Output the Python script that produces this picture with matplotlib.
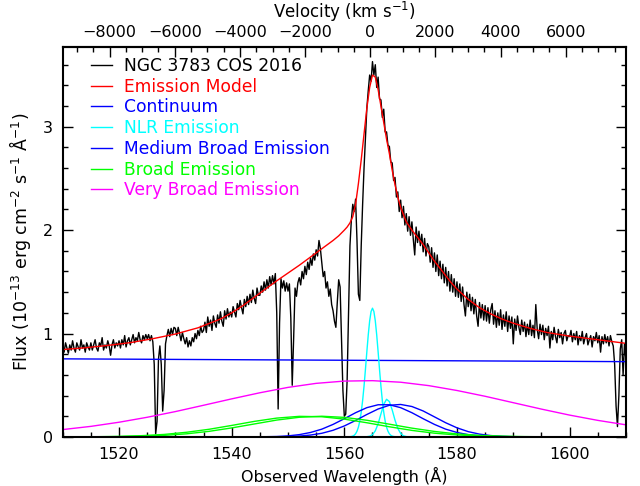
import matplotlib
matplotlib.use('Agg')
import matplotlib.pyplot as plt
import numpy as np
from matplotlib.ticker import MultipleLocator, FixedLocator

plt.rcParams['font.family'] = 'DejaVu Sans'
plt.rcParams['font.size'] = 11.5
plt.rcParams['mathtext.fontset'] = 'dejavusans'

# Спектр NGC 3783 (шаг 0.25 Å, от 1510 до 1610 Å), по 5 Å в строке
wave = np.arange(1510.0, 1610.01, 0.25)
flux = [
    0.87, 0.82, 0.91, 0.86, 0.81, 0.89, 0.84, 0.93, 0.86, 0.82, 0.91, 0.87, 0.84, 0.94, 0.86, 0.89, 0.82, 0.91, 0.87, 0.84,
    0.91, 0.84, 0.89, 0.94, 0.86, 0.83, 0.91, 0.88, 0.96, 0.84, 0.89, 0.86, 0.93, 0.88, 0.79, 0.89, 0.94, 0.86, 0.91, 0.88,
    0.93, 0.86, 0.94, 0.89, 0.98, 0.87, 0.93, 0.96, 0.89, 0.94, 0.99, 0.91, 0.96, 0.93, 1.01, 0.94, 0.91, 0.98, 0.94, 0.99,
    0.95, 0.99, 0.93, 0.98, 0.92, 0.70, 0.03, 0.15, 0.75, 0.88, 0.70, 0.25, 0.45, 0.90, 0.98, 1.04, 0.97, 1.05, 0.99, 1.06,
    1.05, 0.98, 1.06, 1.00, 0.93, 1.01, 0.95, 0.90, 0.96, 0.87, 0.93, 0.88, 0.96, 0.92, 1.00, 0.95, 1.03, 0.98, 1.07, 1.01,
    1.03, 1.11, 1.01, 1.16, 1.07, 1.13, 1.03, 1.17, 1.10, 1.06, 1.18, 1.10, 1.21, 1.12, 1.07, 1.22, 1.14, 1.24, 1.16, 1.21,
    1.16, 1.26, 1.21, 1.16, 1.29, 1.23, 1.32, 1.25, 1.19, 1.33, 1.26, 1.36, 1.28, 1.38, 1.30, 1.42, 1.34, 1.29, 1.44, 1.37,
    1.37, 1.46, 1.40, 1.50, 1.42, 1.52, 1.44, 1.55, 1.47, 1.56, 1.48, 1.58, 1.20, 0.27, 1.10, 1.53, 1.44, 1.51, 1.41, 1.49,
    1.41, 1.48, 1.15, 0.50, 0.95, 1.44, 1.36, 1.49, 1.54, 1.47, 1.60, 1.53, 1.65, 1.57, 1.69, 1.62, 1.73, 1.66, 1.77, 1.71,
    1.81, 1.75, 1.90, 1.82, 1.68, 1.55, 1.60, 1.44, 1.50, 1.36, 1.43, 1.28, 1.22, 1.12, 1.06, 1.30, 1.52, 1.45, 0.95, 0.45,
    0.20, 0.22, 0.55, 1.20, 1.85, 2.10, 2.25, 2.18, 2.30, 1.90, 1.38, 1.32, 1.85, 2.25, 2.60, 2.90, 3.18, 3.35, 3.50, 3.44,
    3.63, 3.50, 3.60, 3.38, 3.48, 3.27, 3.26, 3.09, 3.17, 2.95, 2.95, 2.82, 2.81, 2.66, 2.65, 2.48, 2.51, 2.32, 2.37, 2.18,
    2.29, 2.12, 2.23, 2.05, 2.16, 1.99, 2.13, 1.95, 2.08, 1.91, 1.76, 2.03, 1.88, 1.99, 1.85, 1.96, 1.79, 1.92, 1.75, 1.87,
    1.84, 1.69, 1.83, 1.64, 1.78, 1.60, 1.76, 1.56, 1.70, 1.53, 1.67, 1.49, 1.64, 1.46, 1.60, 1.41, 1.57, 1.40, 1.53, 1.36,
    1.50, 1.35, 1.48, 1.31, 1.45, 1.28, 1.17, 1.40, 1.26, 1.38, 1.22, 1.35, 1.19, 1.33, 1.17, 1.07, 1.30, 1.15, 1.28, 1.13,
    1.27, 1.12, 1.25, 1.10, 1.23, 1.29, 1.09, 1.22, 1.06, 1.20, 1.08, 1.23, 1.04, 1.18, 1.07, 1.21, 1.02, 1.17, 1.05, 1.16,
    0.90, 1.14, 1.03, 1.17, 1.06, 0.99, 1.13, 1.02, 1.11, 0.97, 1.09, 0.99, 1.13, 0.98, 1.08, 0.96, 1.28, 1.04, 0.95, 1.09,
    0.99, 1.08, 0.94, 1.05, 0.98, 1.07, 0.86, 1.02, 0.94, 1.06, 0.97, 0.91, 1.04, 0.96, 1.01, 0.90, 1.00, 1.03, 0.93, 0.98,
    0.97, 1.03, 0.92, 1.00, 0.94, 1.02, 0.89, 0.98, 0.93, 1.02, 0.90, 0.96, 1.00, 0.89, 0.94, 0.98, 0.87, 0.97, 0.93, 1.01,
    0.91, 0.98, 0.82, 0.97, 0.90, 0.99, 0.91, 0.97, 0.88, 0.98, 0.92, 0.88, 0.70, 0.30, 0.10, 0.40, 0.85, 0.94, 0.60, 0.90,
    0.75,
]

# Модель излучения (красная линия)
model_wave = [1510, 1514, 1518, 1522, 1526, 1530, 1534, 1538,
              1540, 1542, 1544, 1546, 1548, 1550, 1552, 1554, 1556, 1558,
              1559, 1560, 1560.5, 1561, 1561.5, 1562, 1562.5, 1563, 1563.5,
              1564, 1564.5, 1565, 1565.5, 1566, 1566.5, 1567, 1567.5, 1568,
              1568.5, 1569, 1569.5, 1570,
              1571, 1572, 1573, 1574, 1575, 1576, 1577, 1578, 1579, 1580,
              1582, 1584, 1586, 1588, 1590, 1593, 1596, 1600, 1605, 1610]
model_flux = [0.845, 0.862, 0.885, 0.912, 0.950, 0.995, 1.055, 1.140,
              1.200, 1.270, 1.350, 1.430, 1.510, 1.585, 1.660, 1.740, 1.820, 1.900,
              1.945, 2.000, 2.030, 2.070, 2.130, 2.250, 2.450, 2.680, 2.930,
              3.180, 3.380, 3.500, 3.480, 3.360, 3.200, 3.040, 2.880, 2.740,
              2.580, 2.440, 2.320, 2.220,
              2.080, 2.000, 1.930, 1.860, 1.780, 1.700, 1.630, 1.560, 1.490, 1.430,
              1.330, 1.250, 1.190, 1.140, 1.100, 1.050, 1.010, 0.975, 0.940, 0.905]

# Континуум
cont_wave = [1510, 1610]
cont_flux = [0.755, 0.728]

# Узкие линии (NLR), дублет
nlr1_wave = np.arange(1561.0, 1569.01, 0.25)
nlr1_flux = [0.002, 0.004, 0.008, 0.016, 0.030, 0.055, 0.094, 0.154,
             0.238, 0.351, 0.491, 0.653, 0.824, 0.987, 1.123, 1.213,
             1.245,
             1.213, 1.123, 0.987, 0.824, 0.653, 0.491, 0.351, 0.238,
             0.154, 0.094, 0.055, 0.030, 0.016, 0.008, 0.004, 0.002]
nlr2_wave = np.arange(1563.5, 1571.51, 0.5)
nlr2_flux = [0.000, 0.002, 0.007, 0.022, 0.059, 0.127, 0.222, 0.315, 0.364,
             0.342, 0.261, 0.162, 0.082, 0.034, 0.011, 0.003, 0.001]

# Средне-широкие линии, дублет
mb_wave = np.arange(1546, 1592.1, 2)
mb1_flux = [0.002, 0.004, 0.010, 0.022, 0.043, 0.075, 0.121, 0.176, 0.234, 0.283,
            0.311, 0.311, 0.283, 0.234, 0.176, 0.121, 0.075, 0.043, 0.022, 0.010,
            0.004, 0.002, 0.001, 0.000]
mb2_flux = [0.000, 0.001, 0.003, 0.008, 0.018, 0.035, 0.064, 0.106, 0.159, 0.217,
            0.270, 0.306, 0.314, 0.294, 0.251, 0.194, 0.137, 0.088, 0.051, 0.027,
            0.013, 0.006, 0.002, 0.001]

# Широкие линии, дублет
br_wave = np.arange(1516, 1596.1, 4)
br1_flux = [0.002, 0.005, 0.012, 0.024, 0.045, 0.074, 0.111, 0.150, 0.182, 0.199,
            0.195, 0.172, 0.137, 0.098, 0.063, 0.036, 0.019, 0.009, 0.004, 0.001, 0.000]
br2_flux = [0.001, 0.003, 0.007, 0.015, 0.030, 0.054, 0.087, 0.125, 0.163, 0.190,
            0.200, 0.189, 0.161, 0.123, 0.085, 0.053, 0.029, 0.015, 0.007, 0.003, 0.001]

# Очень широкая линия
vb_wave = np.arange(1510, 1610.1, 5)
vb_flux = [0.071, 0.102, 0.142, 0.190, 0.245, 0.306, 0.368, 0.427, 0.479, 0.518,
           0.540, 0.544, 0.529, 0.496, 0.449, 0.393, 0.331, 0.269, 0.211, 0.160, 0.117]

# Шкала скоростей на верхней оси
V_ZERO_WAVE = 1564.6
KMS_PER_A = 172.9
vel_ticks = [-8000, -6000, -4000, -2000, 0, 2000, 4000, 6000]


def to_vel(w):
    return (w - V_ZERO_WAVE) * KMS_PER_A


def to_wave(v):
    return v / KMS_PER_A + V_ZERO_WAVE


fig = plt.figure(figsize=(6.4, 4.86), dpi=100)
ax = fig.add_axes([0.098, 0.101, 0.880, 0.802])

ax.plot(wave, flux, color='black', lw=1.0, label='NGC 3783 COS 2016')
ax.plot(model_wave, model_flux, color='red', lw=1.0, label='Emission Model')
ax.plot(cont_wave, cont_flux, color='blue', lw=1.0, label='Continuum')
ax.plot(nlr1_wave, nlr1_flux, color='cyan', lw=1.0, label='NLR Emission')
ax.plot(nlr2_wave, nlr2_flux, color='cyan', lw=1.0)
ax.plot(mb_wave, mb1_flux, color='blue', lw=1.0, label='Medium Broad Emission')
ax.plot(mb_wave, mb2_flux, color='blue', lw=1.0)
ax.plot(br_wave, br1_flux, color='lime', lw=1.0, label='Broad Emission')
ax.plot(br_wave, br2_flux, color='lime', lw=1.0)
ax.plot(vb_wave, vb_flux, color='magenta', lw=1.0, label='Very Broad Emission')

ax.set_xlim(1510, 1610)
ax.set_ylim(0, 3.77)

ax.xaxis.set_major_locator(MultipleLocator(20))
ax.xaxis.set_minor_locator(MultipleLocator(5))
ax.yaxis.set_major_locator(MultipleLocator(1))
ax.yaxis.set_minor_locator(MultipleLocator(0.2))
ax.tick_params(which='both', direction='in', top=False, right=True, width=1)
ax.tick_params(which='major', length=7, pad=7)
ax.tick_params(which='minor', length=3.5)

for s in ax.spines.values():
    s.set_linewidth(1.5)

ax.set_xlabel('Observed Wavelength (Å)', labelpad=4)
ax.set_ylabel('Flux (10$^{-13}$ erg cm$^{-2}$ s$^{-1}$ Å$^{-1}$)',
              fontsize=12.5, labelpad=7)

sec = ax.secondary_xaxis('top', functions=(to_vel, to_wave))
sec.xaxis.set_major_locator(FixedLocator(vel_ticks))
sec.xaxis.set_minor_locator(MultipleLocator(500))
sec.tick_params(which='both', direction='in', width=1)
sec.tick_params(which='major', length=7, pad=5)
sec.tick_params(which='minor', length=3.5)
sec.spines['top'].set_linewidth(1.5)
sec.set_xlabel('Velocity (km s$^{-1}$)', fontsize=12, labelpad=5)

ax.legend(loc='upper left', bbox_to_anchor=(0.05, 0.975), frameon=False,
          labelcolor='linecolor', fontsize=12.3, handlelength=1.25,
          handletextpad=0.7, labelspacing=0.16, borderpad=0, borderaxespad=0)

fig.savefig('out.png', dpi=100)
